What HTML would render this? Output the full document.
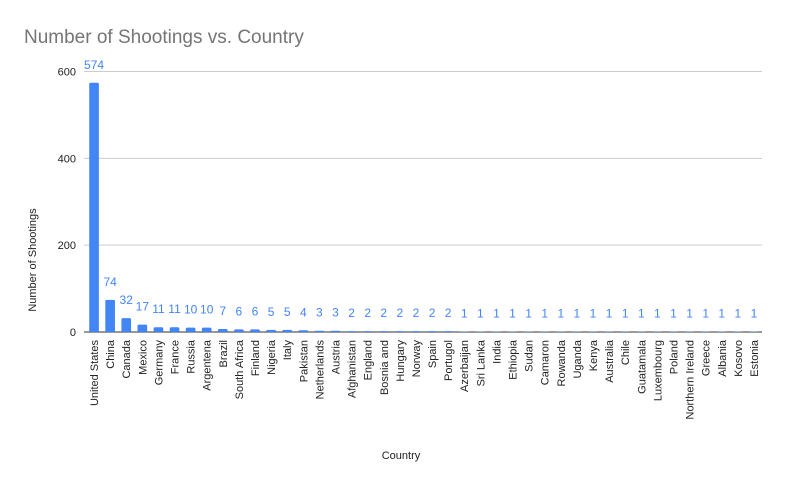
<!DOCTYPE html>
<html><head><meta charset="utf-8"><style>
body{margin:0;background:#fff;font-family:"Liberation Sans",Arial,sans-serif}
</style></head><body>
<svg width="785" height="486" viewBox="0 0 785 486" xmlns="http://www.w3.org/2000/svg">
<rect width="785" height="486" fill="#fff"/>
<text x="24" y="43" font-size="19" fill="#757575">Number of Shootings vs. Country</text>
<g id="grid"></g><g id="bars"></g><g id="labels"></g><g id="xt"></g><g id="yt"></g>
<text x="401" y="459" font-size="11" fill="#222" text-anchor="middle">Country</text>
<text transform="translate(36,260) rotate(-90)" font-size="11" fill="#222" text-anchor="middle">Number of Shootings</text>
</svg>
<script>
const categories=["United States","China","Canada","Mexico","Germany","France","Russia","Argentena","Brazil","South Africa","Finland","Nigeria","Italy","Pakistan","Netherlands","Austria","Afghanistan","England","Bosnia and","Hungary","Norway","Spain","Portugol","Azerbaijan","Sri Lanka","India","Ethiopia","Sudan","Camaron","Rowanda","Uganda","Kenya","Australia","Chile","Guatamala","Luxembourg","Poland","Northern Ireland","Greece","Albania","Kosovo","Estonia"];
const values=[574,74,32,17,11,11,10,10,7,6,6,5,5,4,3,3,2,2,2,2,2,2,2,1,1,1,1,1,1,1,1,1,1,1,1,1,1,1,1,1,1,1];
const yTicks=[0,200,400,600];
const NS="http://www.w3.org/2000/svg";
const x0=86,x1=762,y0=332,yTop=71.5,yMax=600;
const n=categories.length,step=(x1-x0)/n;
const ys=v=>y0-v/yMax*(y0-yTop);
const xs=i=>x0+step*(i+0.5);
function mk(t,a,p){const e=document.createElementNS(NS,t);for(const k in a)e.setAttribute(k,a[k]);document.getElementById(p).appendChild(e);return e;}
yTicks.forEach(t=>{
 const l=mk('line',{x1:84,x2:x1,y1:ys(t),y2:ys(t),stroke:t===0?'#333':'#ccc','stroke-width':1},'grid');
 
 
 const tx=mk('text',{x:76,y:ys(t)+4,'font-size':11,fill:'#222','text-anchor':'end'},'yt');
 tx.textContent=t;
 
 
});
const bw=step*0.6;
values.forEach((v,i)=>{
 const cx=xs(i);
 const r=mk('rect',{x:cx-bw/2,y:ys(v),width:bw,height:y0-ys(v),fill:'#4285f4',rx:1.5},'bars');
 
 
 const t=mk('text',{x:cx,y:ys(v)-14,'font-size':12,fill:'#4285f4','text-anchor':'middle'},'labels');
 t.textContent=v;
 
 
 const c=mk('text',{transform:`translate(${cx+4},340) rotate(-90)`,'font-size':11,fill:'#222','text-anchor':'end'},'xt');
 c.textContent=categories[i];
 
 
});
</script>
</body></html>
